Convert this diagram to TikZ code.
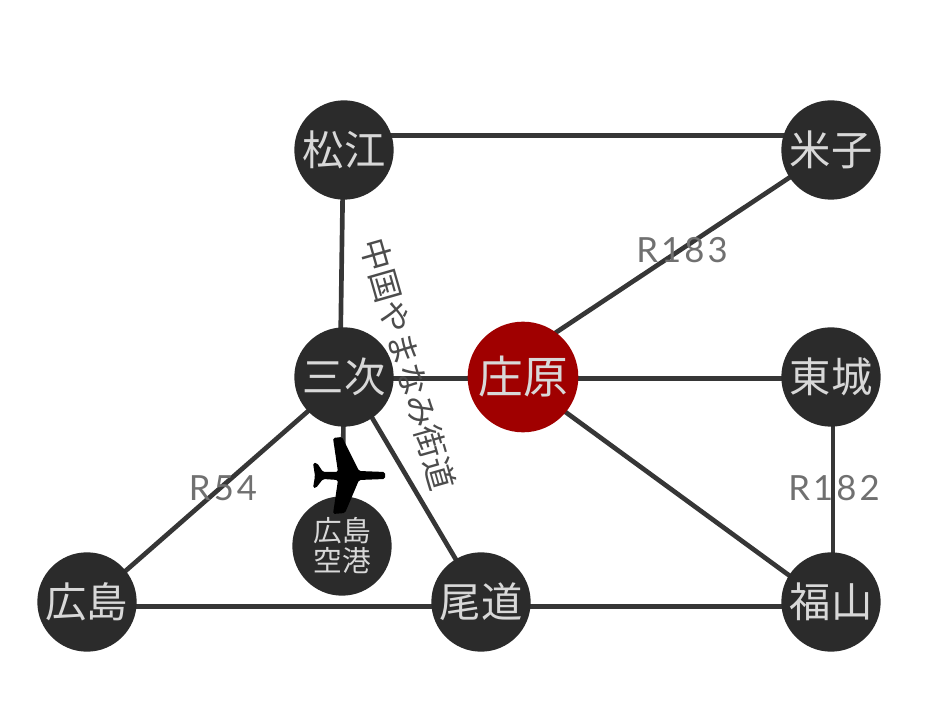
\documentclass[tikz,border=0pt]{standalone}
\usepackage{fontspec}
\setmainfont{Noto Sans CJK JP}
\newfontfamily\latinf[LetterSpace=9]{Lato}
\definecolor{dk}{HTML}{2B2B2B}
\definecolor{rd}{HTML}{A00000}
\definecolor{lb}{HTML}{707070}
\definecolor{nt}{HTML}{D8D8D8}
\pgfdeclarelayer{bg}
\pgfsetlayers{bg,main}
\tikzset{
 city/.style={circle,fill=dk,minimum size=74.5pt,inner sep=0pt,text=nt,font=\fontsize{31}{31}\selectfont},
 hub/.style={city,fill=rd,minimum size=83pt,font=\fontsize{33.5}{34}\selectfont},
 smallcity/.style={city,align=center,font=\fontsize{21.5}{22.5}\selectfont},
 link/.style={draw=dk!95!white,line width=3.5pt},
 roadlabel/.style={text=lb,font=\latinf\fontsize{26}{26}\selectfont,inner sep=0pt},
 routename/.style={text=black!70,inner sep=0pt,font=\fontsize{24.4}{24.4}\selectfont,rotate=-74}
}
\begin{document}
\begin{tikzpicture}[x=0.75pt,y=-0.75pt]
\useasboundingbox (0,0) rectangle (940,705);
\node[city] (matsue) at (344,150) {松江};
\node[city] (yonago) at (831,150) {米子};
\node[city] (miyoshi) at (344,377) {三次};
\node[hub] (shobara) at (523,377) {庄原};
\node[city] (tojo) at (831,377) {東城};
\node[smallcity] (airport) at (342,546) {広島\\空港};
\node[city] (hiroshima) at (87,602) {広島};
\node[city] (onomichi) at (481,602) {尾道};
\node[city] (fukuyama) at (831,602) {福山};
\begin{pgfonlayer}{bg}
\draw[link] ([yshift=11pt]matsue.center) -- ([yshift=11pt]yonago.center);
\draw[link] ([xshift=-0.5pt]matsue.center) -- ([xshift=-3pt]miyoshi.center);
\draw[link] ([yshift=17pt]shobara.center) -- (yonago.center);
\draw[link] ([yshift=-1pt]miyoshi.center) -- ([yshift=-1pt]shobara.center);
\draw[link] ([yshift=-1pt]shobara.center) -- ([yshift=-1pt]tojo.center);
\draw[link] ([yshift=-3pt]shobara.center) -- ([yshift=-3pt]fukuyama.center);
\draw[link] ([xshift=1.5pt]tojo.center) -- ([xshift=1.5pt]fukuyama.center);
\draw[link] ([yshift=-2pt]miyoshi.center) -- ([yshift=-2pt]hiroshima.center);
\draw[link] ([xshift=3pt]miyoshi.center) -- (onomichi.center);
\draw[link] (miyoshi.center) -- (airport.center);
\draw[link] ([yshift=-3.5pt]hiroshima.center) -- ([yshift=-3.5pt]onomichi.center);
\draw[link] ([yshift=-3.5pt]onomichi.center) -- ([yshift=-3.5pt]fukuyama.center);
\end{pgfonlayer}
\node[roadlabel] (r183) at (682,250) {R183};
\node[roadlabel] (r54) at (223,488) {R54};
\node[roadlabel] (r182) at (834,488) {R182};
\node[routename] (route) at (408,364) {中国やまなみ街道};
% aeroplane
\fill[black,rounded corners=1.2pt]
 (385,472) -- (385,479) -- (359,480) -- (345,513) -- (333,514) -- (338,480)
 -- (323,479) -- (316,488) -- (313,488) -- (315,476) -- (313,463) -- (317,463)
 -- (323,472) -- (338,472) -- (333,438) -- (342,437) -- (359,471) -- cycle;
\end{tikzpicture}
\end{document}
